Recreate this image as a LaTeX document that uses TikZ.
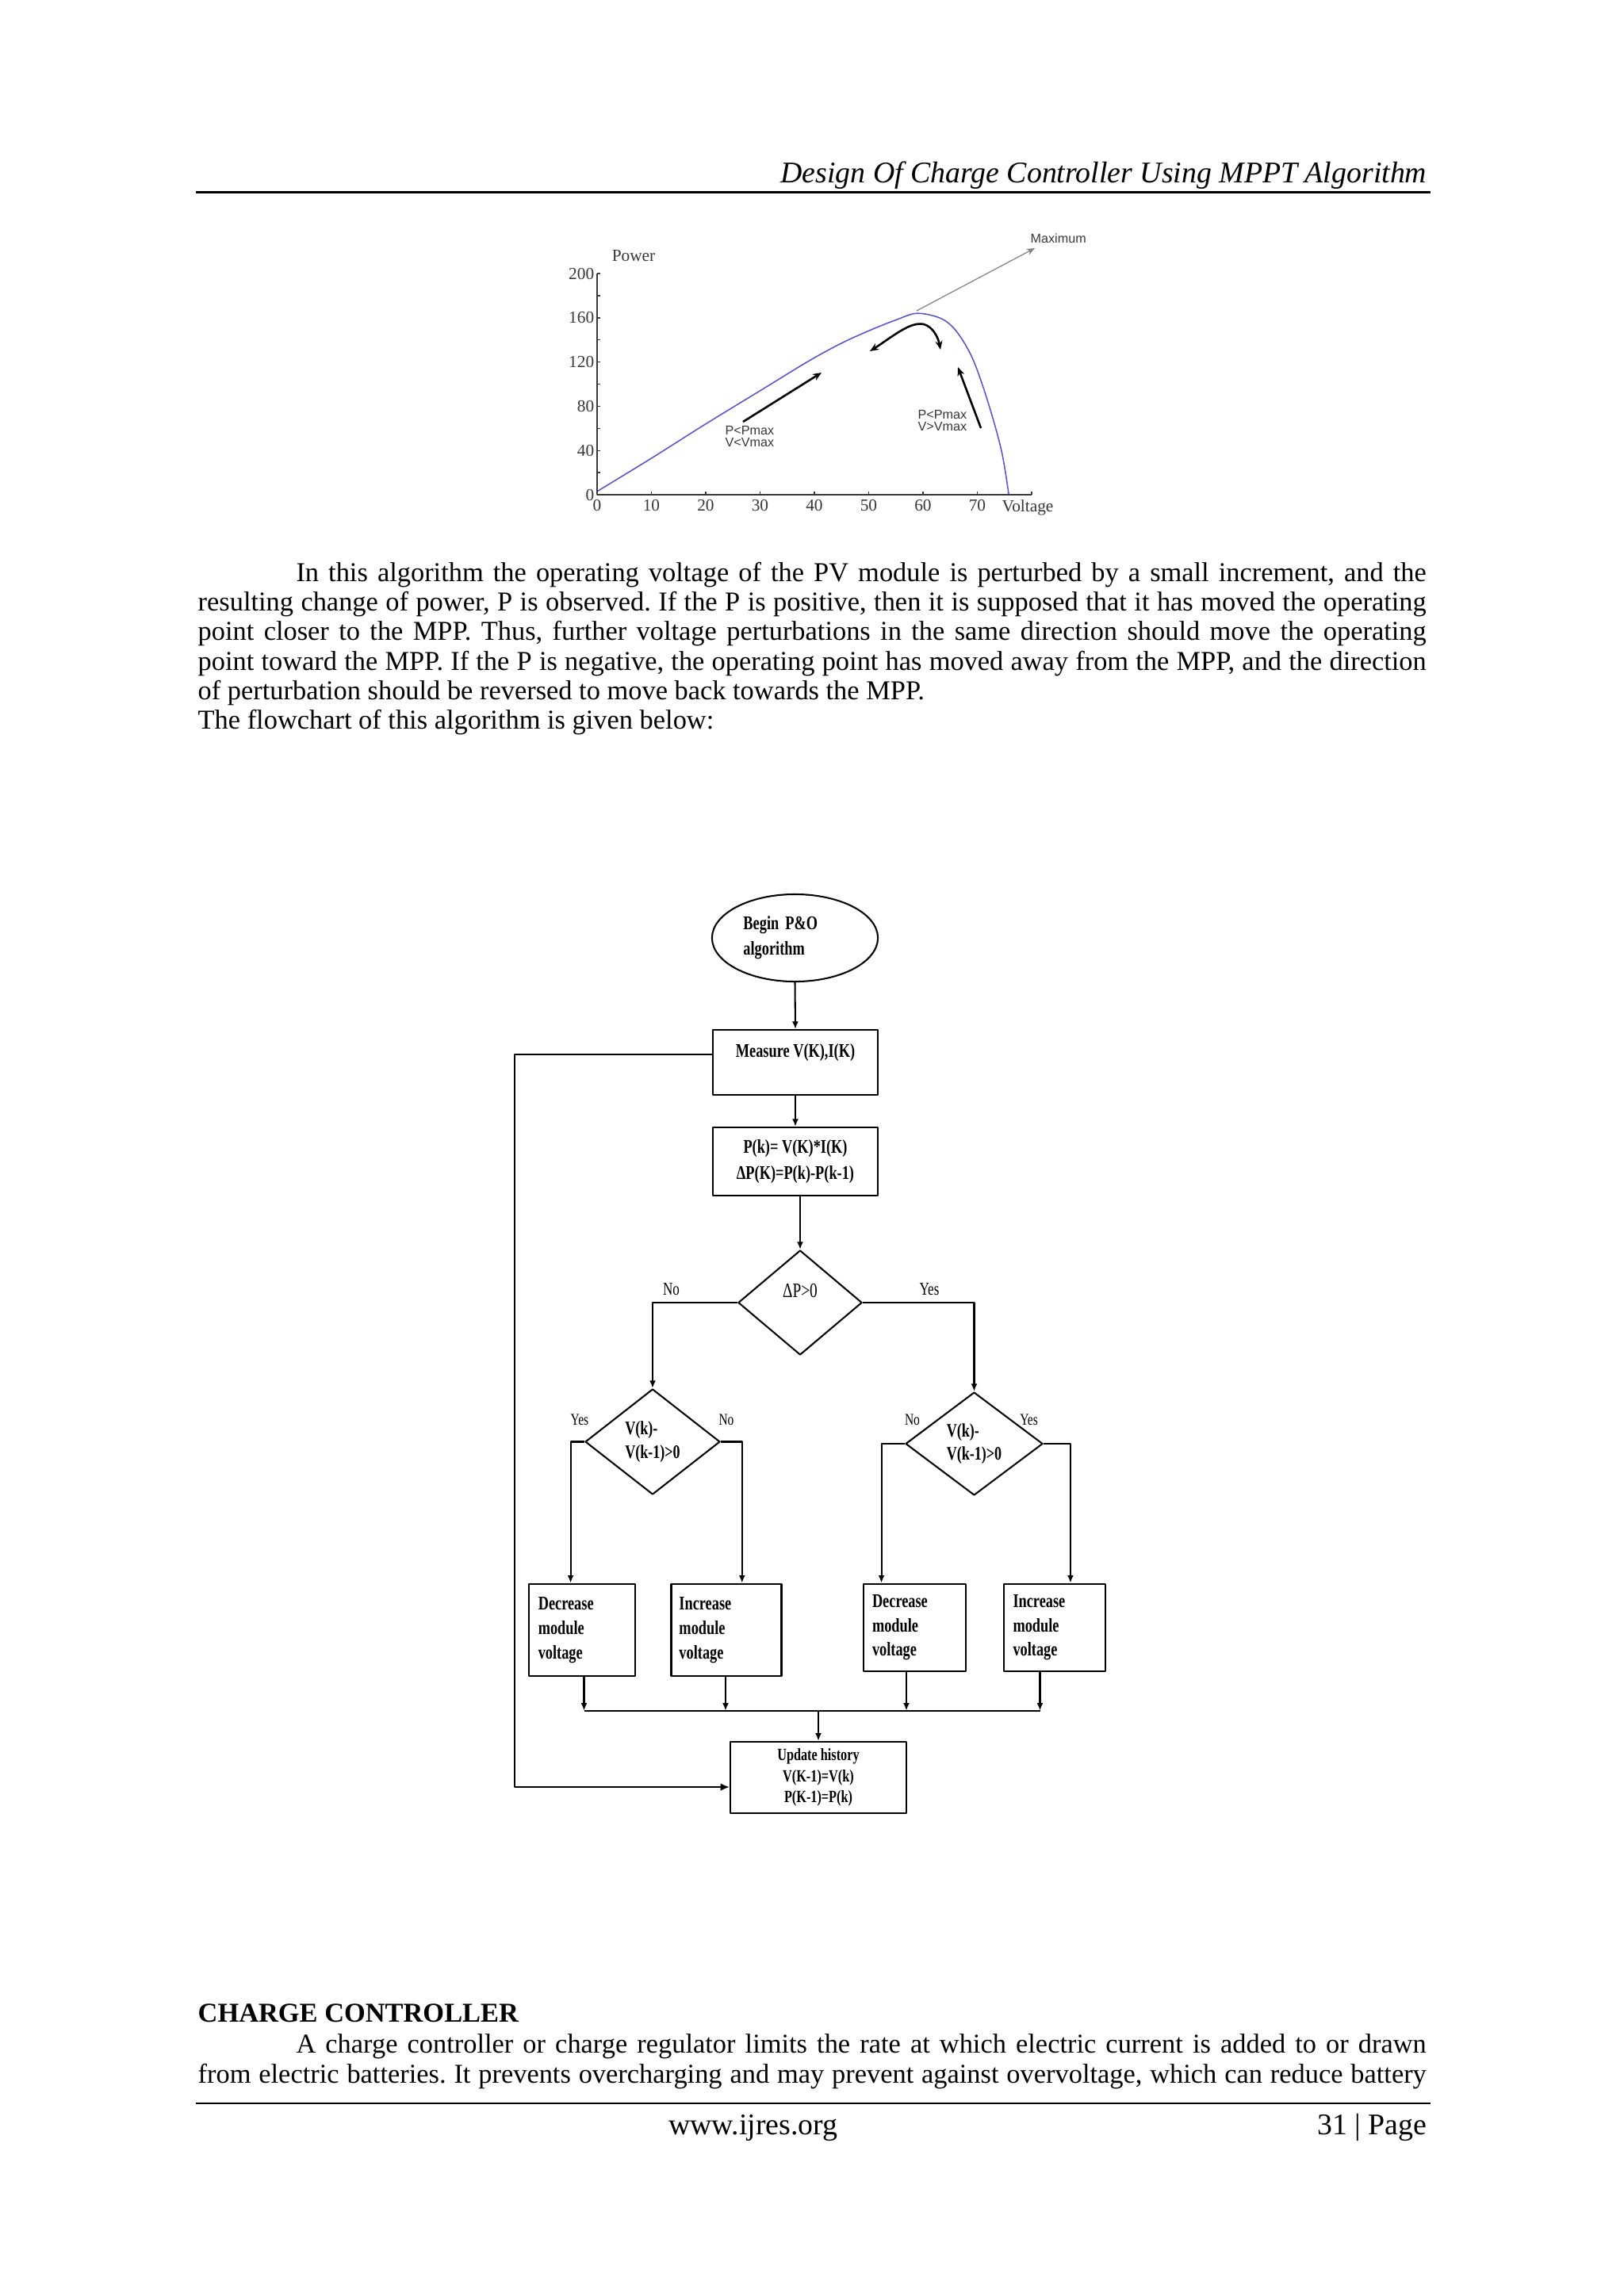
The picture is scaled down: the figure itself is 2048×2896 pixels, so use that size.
\documentclass[tikz,border=0pt]{standalone}
\usepackage{fontspec}
\setmainfont{Liberation Serif}
\newfontfamily\flowfont{Liberation Serif}[FakeStretch=0.75]
\newfontfamily\plotsans{Liberation Sans}
\usetikzlibrary{arrows.meta,shapes.geometric,positioning}
\definecolor{curveblue}{RGB}{85,85,205}
\definecolor{plotgray}{RGB}{55,55,55}
\frenchspacing
\tikzset{
  proc/.style={draw, line width=0.6pt, inner sep=0pt, font=\flowfont\bfseries\fontsize{7.1}{9}\selectfont},
  deci/.style={diamond, draw, line width=0.6pt, inner sep=0pt},
  flowlab/.style={inner sep=0pt, anchor=base, font=\flowfont\fontsize{6.6}{8}\selectfont},
  smalllab/.style={inner sep=0pt, anchor=base, font=\flowfont\fontsize{6}{7}\selectfont},
  plotlab/.style={inner sep=0pt, text=plotgray, font=\plotsans\fontsize{4.7}{4.4}\selectfont, align=left},
  ticklab/.style={inner sep=0pt, text=plotgray, font=\fontsize{6.2}{7}\selectfont},
  flowarrow/.style={line width=0.6pt, -{Latex[length=2.8pt,width=2.3pt]}}
}
\begin{document}
\begin{tikzpicture}[x=0.2907pt, y=-0.2907pt, line join=round]
\fill[white] (0,0) rectangle (2048,2896);
\useasboundingbox (0,0) rectangle (2048,2896);

% header and footer
\node[anchor=base east, inner sep=0pt, font=\fontsize{11}{13}\selectfont\itshape] (title) at (1800,230) {Design Of Charge Controller Using MPPT Algorithm};
\draw[line width=0.6pt] (247,242.5) -- (1804,242.5);
\draw[line width=0.6pt] (247,2653) -- (1804,2653);
\node[anchor=base, inner sep=0pt, font=\fontsize{11}{13}\selectfont] (web) at (950,2692) {www.ijres.org};
\node[anchor=base east, inner sep=0pt, font=\fontsize{11}{13}\selectfont] (page) at (1800,2692) {31 | Page};

% P-V curve
\begin{scope}[shift={(753,624)}, x=1.991pt, y=0.4055pt]
  \draw[curveblue, line width=0.45pt] plot[smooth, tension=0.55] coordinates {(0,3) (10,33) (20,64) (30,94) (39,121) (45,137) (50.2,148.6) (55,158) (58.9,164) (63.3,159.4) (66.2,147.5) (69.2,122.4) (72.1,81.7) (74.5,38.7) (75.8,0)};
  \draw[plotgray, line width=0.5pt] (0,200) -- (0,0) -- (80,0);
  \foreach \v in {0,10,...,80} \draw[plotgray, line width=0.4pt] (\v,0) -- ++(0,2.6);
  \foreach \v in {0,10,...,70} \node[ticklab] at (\v,-10) {\v};
  \foreach \p in {0,20,...,200} \draw[plotgray, line width=0.4pt] (0,\p) -- ++(0.55,0);
  \foreach \p in {0,40,...,200} \node[ticklab, anchor=east] at (-0.45,\p) {\p};
\end{scope}
\node[ticklab] (pwr) at (799,323) {Power};
\node[ticklab] (volt) at (1296,640) {Voltage};
\draw[line width=0.75pt, -{Stealth[length=3.2pt,width=2.6pt]}] (937,532) -- (1036,470);
\draw[line width=0.75pt, {Stealth[length=3.2pt,width=2.6pt]}-{Stealth[length=3.2pt,width=2.6pt]}] (1097,443) .. controls (1125,425) and (1148,405) .. (1165,409) .. controls (1176,412) and (1183,425) .. (1186,441);
\draw[line width=0.75pt, -{Stealth[length=3.2pt,width=2.6pt]}] (1237,540) -- (1208,463);
\draw[gray, line width=0.35pt, -{Stealth[length=3pt,width=2.4pt]}] (1156,392) -- (1305,313);
\node[plotlab, anchor=west] (lowlab) at (914,550.5) {P<Pmax\\V<Vmax};
\node[plotlab, anchor=west] (highlab) at (1157,530.5) {P<Pmax\\V>Vmax};
\node[plotlab, anchor=west] (maxlab) at (1299,301) {Maximum};

% text
\node[anchor=base west, inner sep=0pt, text width=450.3pt, align=justify, font=\fontsize{10}{10.87}\selectfont] (para) at (249,733) {\tolerance=10000\hspace*{36pt}In this algorithm the operating voltage of the PV module is perturbed by a small increment, and the\linebreak resulting change of power, P is observed. If the P is positive, then it is supposed that it has moved the operating\linebreak point closer to the MPP. Thus, further voltage perturbations in the same direction should move the operating\linebreak point toward the MPP. If the P is negative, the operating point has moved away from the MPP, and the direction\linebreak of perturbation should be reversed to move back towards the MPP.\\The flowchart of this algorithm is given below:};
\node[anchor=base west, inner sep=0pt, font=\fontsize{10}{11}\selectfont\bfseries] (cc) at (249,2550) {CHARGE CONTROLLER};
\node[anchor=base west, inner sep=0pt, text width=450.3pt, align=justify, font=\fontsize{10}{11.3}\selectfont] (para2) at (249,2589) {\tolerance=10000\hspace*{36pt}A charge controller or charge regulator limits the rate at which electric current is added to or drawn\linebreak from electric batteries. It prevents overcharging and may prevent against overvoltage, which can reduce battery\linebreak};

% flowchart
\node[ellipse, draw, line width=0.6pt, inner sep=0pt, minimum width=60.8pt, minimum height=32pt, text width=37.8pt, align=left, font=\flowfont\bfseries\fontsize{7.1}{9.3}\selectfont] (start) at (1002.5,1183) {Begin P\&O\\algorithm};
\node[proc, minimum width=60.5pt, minimum height=23.8pt, text height=5pt, text depth=9pt] (measure) at (1003,1340) {Measure V(K),I(K)};
\node[proc, minimum width=60.5pt, minimum height=25pt, align=center, font=\flowfont\bfseries\fontsize{7.1}{9.6}\selectfont] (calc) at (1003,1465) {P(k)= V(K)*I(K)\\ΔP(K)=P(k)-P(k-1)};
\node[deci, minimum width=45.4pt, minimum height=38.4pt, text height=5.3pt, text depth=9.3pt, font=\flowfont\fontsize{7.5}{9}\selectfont] (dp) at (1009,1643) {ΔP>0};
\node[deci, minimum width=49.4pt, minimum height=38.7pt, align=left, font=\flowfont\bfseries\fontsize{7}{8.6}\selectfont] (d2) at (823,1818.5) {V(k)-\\V(k-1)>0};
\node[deci, minimum width=50.3pt, minimum height=37.8pt, align=left, font=\flowfont\bfseries\fontsize{7}{8.6}\selectfont] (d3) at (1228.5,1821) {V(k)-\\V(k-1)>0};
\node[proc, minimum width=38.7pt, minimum height=33.9pt, text width=32.1pt, align=left] (decL) at (734,2056) {Decrease\\module\\voltage};
\node[proc, minimum width=40.4pt, minimum height=33.9pt, text width=34.6pt, align=left] (incL) at (916,2056) {Increase\\module\\voltage};
\node[proc, minimum width=37.5pt, minimum height=32pt, text width=31.1pt, align=left] (decR) at (1153.5,2052.7) {Decrease\\module\\voltage};
\node[proc, minimum width=37.1pt, minimum height=32pt, text width=30.5pt, align=left] (incR) at (1330,2052.7) {Increase\\module\\voltage};
\node[proc, minimum width=64.4pt, minimum height=26.3pt, align=center, font=\flowfont\bfseries\fontsize{6.3}{7.7}\selectfont] (update) at (1032,2242) {Update history\\V(K-1)=V(k)\\P(K-1)=P(k)};

\node[flowlab] (noTop) at (846.5,1633) {No};
\node[flowlab] (yesTop) at (1172,1633) {Yes};
\node[smalllab] (yesL) at (731,1797) {Yes};
\node[smalllab] (noL) at (916,1797) {No};
\node[smalllab] (noR) at (1150.5,1797) {No};
\node[smalllab] (yesR) at (1297.5,1797) {Yes};

\draw[flowarrow] (start.south) -- (measure.north);
\draw[flowarrow] (measure.south) -- (calc.north);
\draw[flowarrow] (calc.south -| dp.north) -- (dp.north);
\draw[flowarrow] (dp.west) -| (d2.north);
\draw[flowarrow] (dp.east) -| (d3.north);
\draw[flowarrow] (d2.west) -| ([xshift=-4.2pt]decL.north);
\draw[flowarrow] (d2.east) -| ([xshift=5.75pt]incL.north);
\draw[flowarrow] (d3.west) -| ([xshift=-12.2pt]decR.north);
\draw[flowarrow] (d3.east) -| ([xshift=5.8pt]incR.north);
\coordinate (mrgL) at (736.5,2157.7);
\coordinate (mrgR) at (1311.5,2157.7);
\foreach \b/\x in {decL/736.5, incL/915, decR/1143, incR/1311.5}
  \draw[flowarrow] (\b.south -| \x,0) -- (\x,2157.7);
\draw[line width=0.6pt] (mrgL) -- (mrgR);
\draw[flowarrow] (update.north |- mrgL) -- (update.north);
\draw[line width=0.7pt, -{Latex[length=3.4pt,width=2.8pt]}] ([yshift=2.9pt]measure.west) -- ++(-249,0) |- ([yshift=-3.5pt]update.west);
\end{tikzpicture}
\end{document}
